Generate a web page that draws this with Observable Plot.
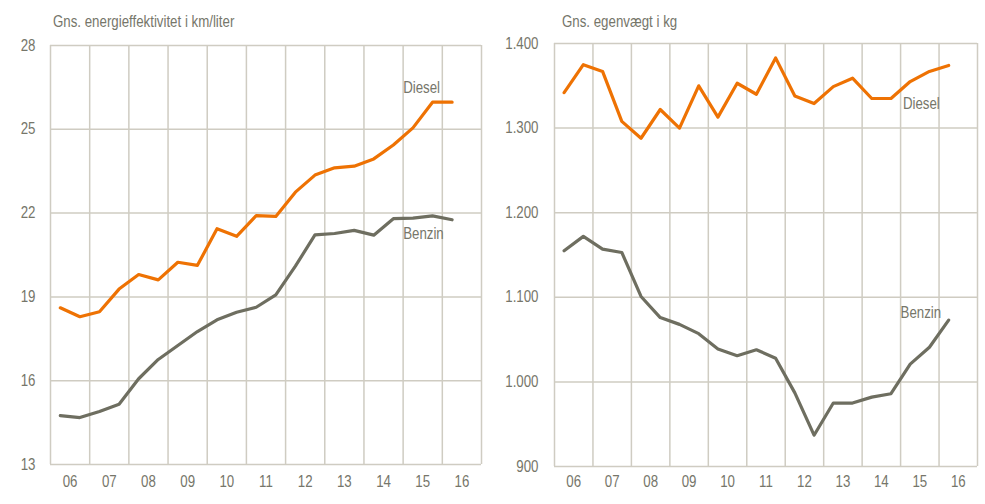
<!DOCTYPE html>
<html><head><meta charset="utf-8">
<script src="https://cdn.jsdelivr.net/npm/d3@7"></script>
<script src="https://cdn.jsdelivr.net/npm/@observablehq/plot@0.6"></script>
<style>
body{margin:0;background:#fff;width:985px;height:504px;overflow:hidden;position:relative;font-family:"Liberation Sans",Arial,sans-serif;}
.panel{position:absolute;top:0;height:504px;}
.panel svg{position:absolute;top:0;left:0;}
.title{position:absolute;top:13px;font-size:16px;color:#76766a;white-space:nowrap;z-index:2;line-height:18px;transform:scaleX(0.83);transform-origin:0 0;}
</style></head><body>
<div id="left" class="panel" style="left:0;width:490px"><div class="title" style="left:53px">Gns. energieffektivitet i km/liter</div></div>
<div id="right" class="panel" style="left:490px;width:495px"><div class="title" style="left:72px">Gns. egenvægt i kg</div></div>
<script>
// half-year periods 2006 H1 .. 2016 H1
const periods = ["2006-1","2006-2","2007-1","2007-2","2008-1","2008-2","2009-1","2009-2","2010-1","2010-2","2011-1","2011-2","2012-1","2012-2","2013-1","2013-2","2014-1","2014-2","2015-1","2015-2","2016-1"];
const years = [2006,2007,2008,2009,2010,2011,2012,2013,2014,2015,2016];
const yearLabels = ["06","07","08","09","10","11","12","13","14","15","16"];

const effDiesel = [18.61,18.29,18.47,19.28,19.80,19.61,20.24,20.13,21.44,21.17,21.91,21.88,22.75,23.36,23.62,23.68,23.94,24.44,25.05,25.97,25.97];
const effBenzin = [14.75,14.68,14.90,15.16,16.07,16.76,17.26,17.76,18.18,18.45,18.63,19.07,20.10,21.22,21.27,21.38,21.21,21.80,21.82,21.90,21.76];
const weightDiesel = [1342,1375,1367,1308,1288,1322,1300,1350,1313,1353,1340,1383,1338,1329,1349,1359,1335,1335,1355,1367,1374];
const weightBenzin = [1155,1172,1157,1153,1101,1076,1068,1057,1039,1031,1038,1028,987,937,975,975,982,986,1021,1041,1073];

const effTicks = [13,16,19,22,25,28];
const weightTicks = [900,1000,1100,1200,1300,1400];

const ORANGE = "#ee7203", GREY = "#6e6e60", GRID = "#cfccc2", TEXT = "#76766a";
const FONT = '"Liberation Sans",Arial,sans-serif';
const NARROW = 0.83;

const xPos = p => { const [y, h] = p.split("-").map(Number); return y + (h === 1 ? 0.25 : 0.75); };
const rows = (vals) => periods.map((p, i) => ({x: xPos(p), v: vals[i]}));
const gridX = years.concat([years[years.length-1] + 1]);
const tickX = years.map(y => y + 0.5);
const dk = d3.formatLocale({decimal: ",", thousands: ".", grouping: [3], currency: ["", " kr"]}).format(",");

function narrow(svg) {
  svg.querySelectorAll("text").forEach(t => {
    const len = t.getComputedTextLength();
    if (len > 0) {
      t.setAttribute("textLength", (len * NARROW).toFixed(2));
      t.setAttribute("lengthAdjust", "spacingAndGlyphs");
    }
  });
}

function panel(host, {width, mLeft, mRight, mTop, mBottom, yDomain, yTicks, yFmt, diesel, benzin, labels, padX, padY}) {
  const svg = Plot.plot({
    width, height: 504,
    marginLeft: mLeft, marginRight: mRight, marginTop: mTop, marginBottom: mBottom,
    style: {fontFamily: FONT, fontSize: "16px", color: TEXT, background: "transparent"},
    x: {domain: [2006, 2017], ticks: tickX, tickFormat: d => yearLabels[years.indexOf(Math.round(d - 0.5))], tickSize: 0, tickPadding: padX, label: null},
    y: {domain: yDomain, ticks: yTicks, tickFormat: yFmt, tickSize: 0, tickPadding: padY, label: null},
    marks: [
      Plot.ruleX(gridX, {stroke: GRID, strokeWidth: 1.5}),
      Plot.ruleY(yTicks, {stroke: GRID, strokeWidth: 1.5}),
      Plot.lineY(rows(benzin), {x: "x", y: "v", stroke: GREY, strokeWidth: 3.2}),
      Plot.lineY(rows(diesel), {x: "x", y: "v", stroke: ORANGE, strokeWidth: 3.2}),
      Plot.text(labels, {x: "x", y: "y", text: "t", textAnchor: "start", fill: TEXT, fontSize: 16})
    ]
  });
  document.getElementById(host).appendChild(svg);
  narrow(svg);
}

panel("left", {
  width: 490, mLeft: 50, mRight: 9, mTop: 45, mBottom: 40,
  yDomain: [13, 28], yTicks: effTicks, yFmt: d => String(d),
  diesel: effDiesel, benzin: effBenzin,
  labels: [{x: 2015.0, y: 26.5, t: "Diesel"}, {x: 2015.0, y: 21.27, t: "Benzin"}],
  padX: 11, padY: 15
});

panel("right", {
  width: 495, mLeft: 64, mRight: 8, mTop: 43, mBottom: 38,
  yDomain: [900, 1400], yTicks: weightTicks, yFmt: d => dk(d),
  diesel: weightDiesel, benzin: weightBenzin,
  labels: [{x: 2015.06, y: 1329, t: "Diesel"}, {x: 2015.0, y: 1082, t: "Benzin"}],
  padX: 9, padY: 16
});
</script>
</body></html>
